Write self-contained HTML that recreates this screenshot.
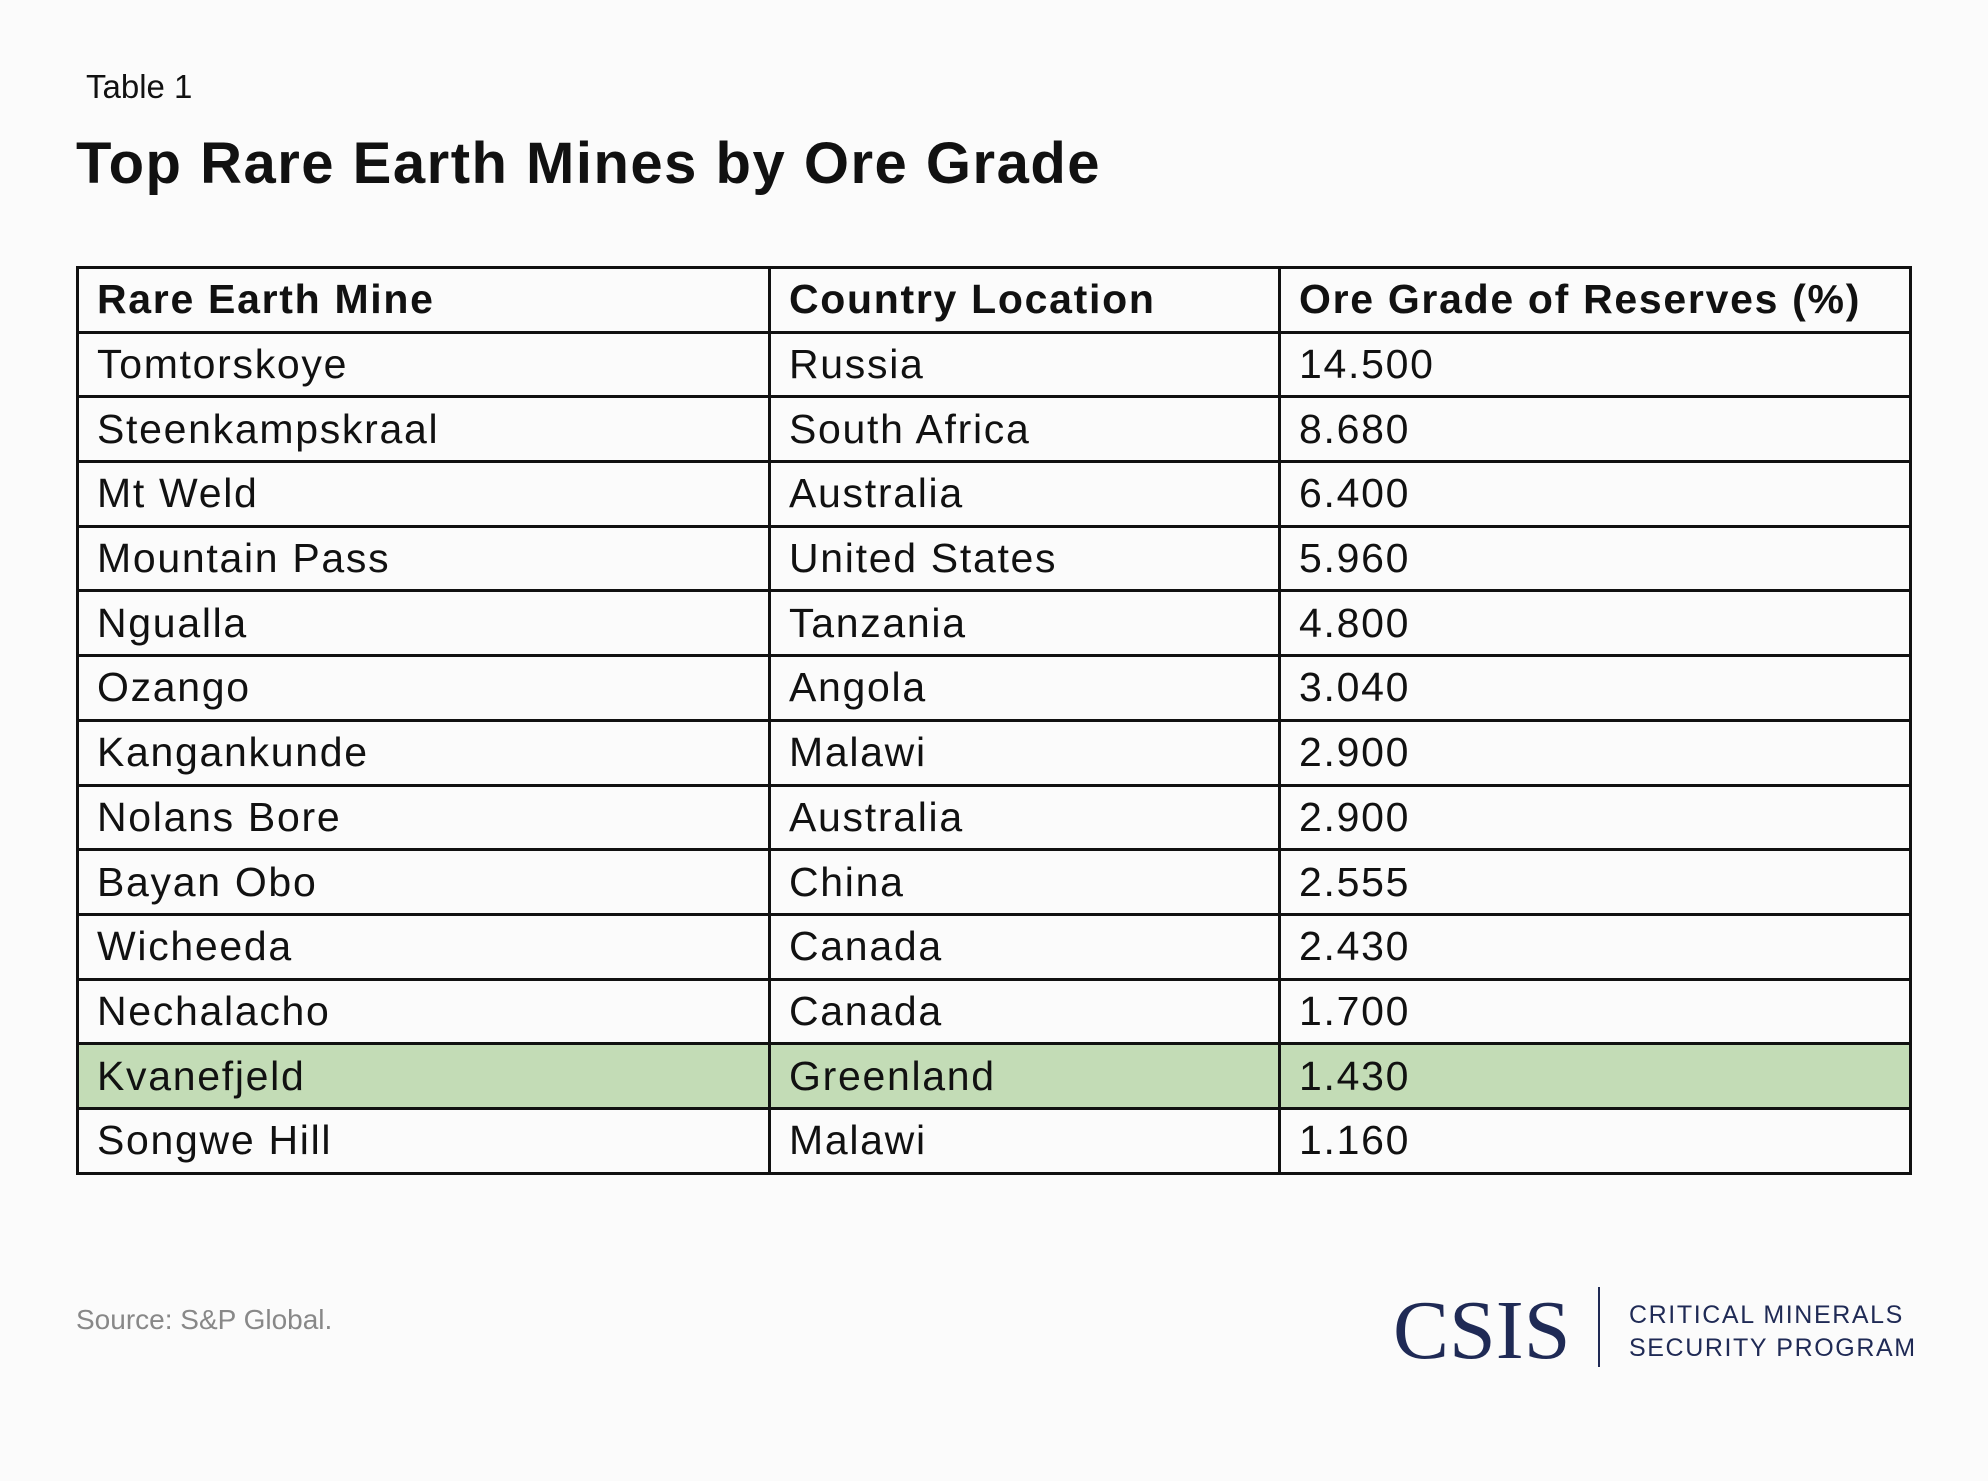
<!DOCTYPE html>
<html><head><meta charset="utf-8"><style>
html,body{margin:0;padding:0;background:#fbfbfb;}
body{width:1988px;height:1481px;position:relative;overflow:hidden;font-family:"Liberation Sans",sans-serif;color:#111;}
.t1{position:absolute;left:86px;top:68px;font-size:33px;}
.title{position:absolute;left:76px;top:130px;font-size:58px;font-weight:bold;letter-spacing:1.5px;}
table{position:absolute;left:76px;top:266px;width:1836px;height:907px;border-collapse:collapse;}
td{border:3.5px solid #111;font-size:41px;padding:0 0 0 18px;height:64.7px;box-sizing:border-box;letter-spacing:1.7px;}
tr.h td{font-weight:bold;}
tr.g td{background:#c3dcb6;}
.src{position:absolute;left:76px;top:1304px;font-size:28px;color:#888;}
.csis{position:absolute;left:1393px;top:1282px;font-family:"Liberation Serif",serif;font-size:84px;color:#1f2a55;letter-spacing:0px;}
.vl{position:absolute;left:1598px;top:1287px;width:2px;height:80px;background:#1f2a55;}
.cmp{position:absolute;left:1629px;top:1299px;font-size:25px;line-height:33px;color:#1f2a55;letter-spacing:1.6px;}
</style></head><body>
<div class="t1">Table 1</div>
<div class="title">Top Rare Earth Mines by Ore Grade</div>
<table>
<colgroup><col style="width:692px"><col style="width:510px"><col></colgroup>
<tr class="h"><td>Rare Earth Mine</td><td>Country Location</td><td>Ore Grade of Reserves (%)</td></tr>
<tr><td>Tomtorskoye</td><td>Russia</td><td>14.500</td></tr>
<tr><td>Steenkampskraal</td><td>South Africa</td><td>8.680</td></tr>
<tr><td>Mt Weld</td><td>Australia</td><td>6.400</td></tr>
<tr><td>Mountain Pass</td><td>United States</td><td>5.960</td></tr>
<tr><td>Ngualla</td><td>Tanzania</td><td>4.800</td></tr>
<tr><td>Ozango</td><td>Angola</td><td>3.040</td></tr>
<tr><td>Kangankunde</td><td>Malawi</td><td>2.900</td></tr>
<tr><td>Nolans Bore</td><td>Australia</td><td>2.900</td></tr>
<tr><td>Bayan Obo</td><td>China</td><td>2.555</td></tr>
<tr><td>Wicheeda</td><td>Canada</td><td>2.430</td></tr>
<tr><td>Nechalacho</td><td>Canada</td><td>1.700</td></tr>
<tr class="g"><td>Kvanefjeld</td><td>Greenland</td><td>1.430</td></tr>
<tr><td>Songwe Hill</td><td>Malawi</td><td>1.160</td></tr>
</table>
<div class="src">Source: S&amp;P Global.</div>
<div class="csis">CSIS</div>
<div class="vl"></div>
<div class="cmp">CRITICAL MINERALS<br>SECURITY PROGRAM</div>
</body></html>
